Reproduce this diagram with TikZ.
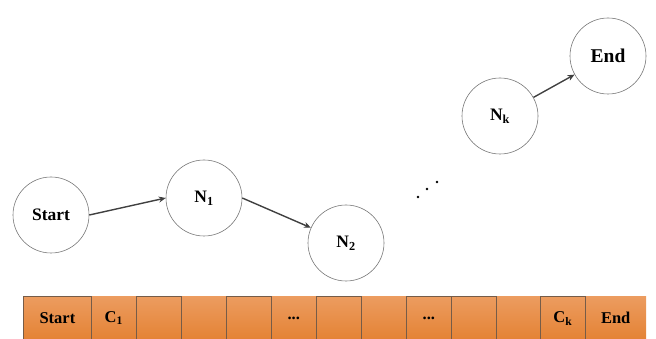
\documentclass[tikz,border=0pt]{standalone}
\usepackage{fontspec}
\setmainfont{Liberation Serif}
\usetikzlibrary{arrows.meta}
\definecolor{cellTop}{RGB}{236,156,96}
\definecolor{cellBot}{RGB}{228,130,52}
\definecolor{cellEdge}{RGB}{118,92,72}
\definecolor{ringGray}{RGB}{120,120,120}
\definecolor{arrowGray}{RGB}{64,64,64}
\begin{document}
\begin{tikzpicture}[x=1pt,y=-1pt,
  state/.style={circle,draw=ringGray,line width=0.6pt,minimum size=76pt,inner sep=0pt,
    font=\fontsize{17.5}{20}\selectfont\bfseries},
  cellbase/.style={rectangle,minimum height=44pt,inner sep=0pt,anchor=north west,
    top color=cellTop,bottom color=cellBot,
    font=\fontsize{16.5}{19}\selectfont\bfseries},
  cellplain/.style={cellbase,draw=none},
  cellframed/.style={cellbase,draw=cellEdge,line width=0.8pt},
  link/.style={draw=arrowGray,line width=1.4pt,-{Stealth[length=7pt,width=6pt]}},
  dotmark/.style={circle,fill=black,inner sep=0pt,minimum size=2.6pt}]
\useasboundingbox (0,0) rectangle (656,339);

% bottom strip of cells: unframed cells first, framed cells on top
\node[cellplain,minimum width=45pt] (c2) at (91,296) {C\textsubscript{1}};
\node[cellplain,minimum width=45pt] (c4) at (181,296) {};
\node[cellplain,minimum width=45pt] (c6) at (271,296) {...};
\node[cellplain,minimum width=45pt] (c8) at (361,296) {};
\node[cellplain,minimum width=44pt] (c11) at (496,296) {};
\node[cellplain,minimum width=61pt] (c13) at (585,296) {End};
\node[cellframed,minimum width=68pt] (c1) at (23,296) {Start};
\node[cellframed,minimum width=45pt] (c3) at (136,296) {};
\node[cellframed,minimum width=45pt] (c5) at (226,296) {};
\node[cellframed,minimum width=45pt] (c7) at (316,296) {};
\node[cellframed,minimum width=45pt] (c9) at (406,296) {...};
\node[cellframed,minimum width=45pt] (c10) at (451,296) {};
\node[cellframed,minimum width=45pt] (c12) at (540,296) {C\textsubscript{k}};

% state circles
\node[state] (start) at (51,215) {Start};
\node[state] (n1) at (204,198) {N\textsubscript{1}};
\node[state] (n2) at (346,243) {N\textsubscript{2}};
\node[state] (nk) at (500,116) {N\textsubscript{k}};
\node[state,font=\fontsize{19.5}{22}\selectfont\bfseries] (end) at (608,56) {End};

% ellipsis between N2 and Nk
\node[dotmark] (d1) at (418,197) {};
\node[dotmark] (d2) at (427,189) {};
\node[dotmark] (d3) at (437,182) {};

% transitions
\draw[link] (start.east) -- (n1.west);
\draw[link] (n1.east) -- (n2);
\draw[link] (nk) -- (end);
\end{tikzpicture}
\end{document}
